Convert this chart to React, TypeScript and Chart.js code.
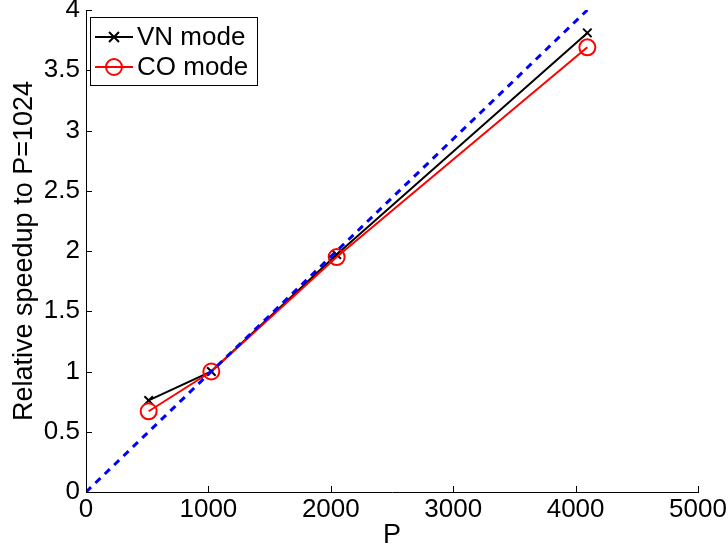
import React, { useEffect, useRef } from "react";
import { Chart, registerables } from "chart.js";

Chart.register(...registerables);

// ---- data ----
const processors = [512, 1024, 2048, 4096];
const vnSpeedup = [0.76, 1.0, 1.97, 3.81];
const coSpeedup = [0.67, 1.0, 1.95, 3.69];
const idealP = [0, 4096];
const idealSpeedup = [0, 4];
const legendLabels = ["VN mode", "CO mode"];
const xTickValues = [0, 1000, 2000, 3000, 4000, 5000];
const yTickValues = [0, 0.5, 1, 1.5, 2, 2.5, 3, 3.5, 4];
const xTitle = "P";
const yTitle = "Relative speedup to P=1024";

const FONT = "'Liberation Sans', Arial, Helvetica, sans-serif";

const toPoints = (xs: number[], ys: number[]) => xs.map((x, i) => ({ x, y: ys[i] }));

const drawCross = (ctx: CanvasRenderingContext2D, x: number, y: number, r: number) => {
  ctx.beginPath();
  ctx.moveTo(x - r, y - r);
  ctx.lineTo(x + r, y + r);
  ctx.moveTo(x - r, y + r);
  ctx.lineTo(x + r, y - r);
  ctx.stroke();
};

const axisPlugin = {
  id: "matlabAxes",
  afterDatasetsDraw(chart: any) {
    const { ctx, chartArea, scales } = chart;
    const { left, bottom } = chartArea;
    ctx.save();
    ctx.strokeStyle = "#000";
    ctx.lineWidth = 1;
    ctx.beginPath();
    xTickValues.forEach((v) => {
      const px = Math.round(scales.x.getPixelForValue(v)) + 0.5;
      ctx.moveTo(px, bottom);
      ctx.lineTo(px, bottom - 6);
    });
    yTickValues.forEach((v) => {
      const py = Math.round(scales.y.getPixelForValue(v)) + 0.5;
      ctx.moveTo(left, py);
      ctx.lineTo(left + 6, py);
    });
    ctx.stroke();

    // legend
    const bx = 90.5, by = 17.5, bw = 167, bh = 68;
    ctx.fillStyle = "#fff";
    ctx.fillRect(bx, by, bw, bh);
    ctx.strokeStyle = "#000";
    ctx.lineWidth = 1;
    ctx.strokeRect(bx, by, bw, bh);
    const rows = [37, 67];
    const colors = ["#000", "#ff0000"];
    rows.forEach((ry, i) => {
      ctx.strokeStyle = colors[i];
      ctx.lineWidth = 2;
      ctx.beginPath();
      ctx.moveTo(95, ry);
      ctx.lineTo(133, ry);
      ctx.stroke();
      if (i === 0) {
        drawCross(ctx, 114, ry, 5);
      } else {
        ctx.beginPath();
        ctx.arc(114, ry, 8, 0, Math.PI * 2);
        ctx.stroke();
      }
      ctx.fillStyle = "#000";
      ctx.font = `26px ${FONT}`;
      ctx.textBaseline = "middle";
      ctx.textAlign = "left";
      ctx.fillText(legendLabels[i], 137, ry + 1);
    });
    ctx.restore();
  },
};

export default function App() {
  const canvasRef = useRef<HTMLCanvasElement | null>(null);

  useEffect(() => {
    if (!canvasRef.current) return;
    const chart = new Chart(canvasRef.current, {
      type: "scatter",
      data: {
        datasets: [
          {
            label: "ideal",
            data: toPoints(idealP, idealSpeedup),
            showLine: true,
            borderColor: "#0000ff",
            borderWidth: 3,
            borderDash: [7, 6],
            pointRadius: 0,
            fill: false,
          },
          {
            label: legendLabels[1],
            data: toPoints(processors, coSpeedup),
            showLine: true,
            borderColor: "#ff0000",
            backgroundColor: "rgba(0,0,0,0)",
            borderWidth: 2,
            pointStyle: "circle",
            pointRadius: 8,
            pointBorderWidth: 2,
            pointBorderColor: "#ff0000",
            pointBackgroundColor: "rgba(0,0,0,0)",
            fill: false,
          },
          {
            label: legendLabels[0],
            data: toPoints(processors, vnSpeedup),
            showLine: true,
            borderColor: "#000",
            backgroundColor: "rgba(0,0,0,0)",
            borderWidth: 2,
            pointStyle: "crossRot",
            pointRadius: 6,
            pointBorderWidth: 2,
            pointBorderColor: "#000",
            fill: false,
          },
        ],
      },
      options: {
        responsive: false,
        animation: false,
        devicePixelRatio: 1,
        layout: { padding: { left: 0, right: 30, top: 10, bottom: 0 } },
        plugins: { legend: { display: false }, tooltip: { enabled: false } },
        scales: {
          x: {
            type: "linear",
            min: 0,
            max: 5000,
            afterBuildTicks: (s: any) => {
              s.ticks = xTickValues.map((v) => ({ value: v }));
            },
            afterFit: (s: any) => {
              s.height = 60;
              s.paddingLeft = 0;
              s.paddingRight = 0;
            },
            grid: { display: false, drawTicks: false },
            border: { display: true, color: "#000", width: 1 },
            ticks: {
              color: "#000",
              font: { family: FONT, size: 26 },
              padding: 2,
              maxRotation: 0,
              autoSkip: false,
              callback: (v: any) => String(v),
            },
            title: {
              display: true,
              text: xTitle,
              color: "#000",
              font: { family: FONT, size: 27 },
              padding: { top: 0, bottom: 0 },
            },
          },
          y: {
            type: "linear",
            min: 0,
            max: 4,
            afterBuildTicks: (s: any) => {
              s.ticks = yTickValues.map((v) => ({ value: v }));
            },
            afterFit: (s: any) => {
              s.width = 86;
              s.paddingTop = 0;
              s.paddingBottom = 0;
            },
            grid: { display: false, drawTicks: false },
            border: { display: true, color: "#000", width: 1 },
            ticks: {
              color: "#000",
              font: { family: FONT, size: 26 },
              padding: 6,
              autoSkip: false,
              callback: (v: any) => String(v),
            },
            title: {
              display: true,
              text: yTitle,
              color: "#000",
              font: { family: FONT, size: 27 },
              padding: { top: 8, bottom: 0 },
            },
          },
        },
      },
      plugins: [axisPlugin],
    } as any);
    return () => chart.destroy();
  }, []);

  return (
    <div style={{ position: "absolute", left: 0, top: 0, width: 728, height: 552, background: "#fff" }}>
      <canvas ref={canvasRef} width={728} height={552} style={{ width: 728, height: 552, display: "block" }} />
    </div>
  );
}
